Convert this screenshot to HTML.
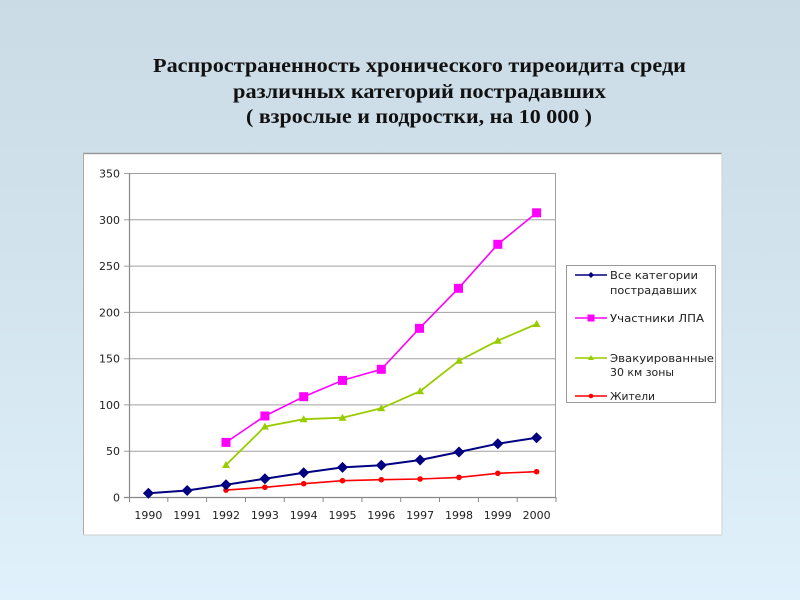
<!DOCTYPE html>
<html><head><meta charset="utf-8"><style>
html,body{margin:0;padding:0;}
body{width:800px;height:600px;overflow:hidden;background:linear-gradient(to bottom,#cbdbe6 0%,#d3e4ee 50%,#e0f1fc 100%);}
svg{display:block;}
</style></head><body>
<svg width="800" height="600" viewBox="0 0 800 600" xmlns="http://www.w3.org/2000/svg">
<g font-family="'Liberation Serif','Times New Roman',serif" font-weight="bold" font-size="20" fill="#111" text-anchor="middle">
<text x="419.5" y="72" textLength="533" lengthAdjust="spacingAndGlyphs">Распространенность хронического тиреоидита среди</text>
<text x="419.5" y="98" textLength="373" lengthAdjust="spacingAndGlyphs">различных категорий пострадавших</text>
<text x="419" y="123" textLength="346" lengthAdjust="spacingAndGlyphs">( взрослые и подростки, на 10 000 )</text>
</g>
<!-- chart box -->
<rect x="83" y="153" width="639" height="382" fill="#fff"/>
<line x1="83" y1="153.5" x2="722" y2="153.5" stroke="#999" stroke-width="1.5"/>
<line x1="83.5" y1="153" x2="83.5" y2="535" stroke="#aaa" stroke-width="1"/>
<line x1="722" y1="153" x2="722" y2="535" stroke="#d6d6d6" stroke-width="1.2"/>
<line x1="83" y1="535" x2="722" y2="535" stroke="#d6d6d6" stroke-width="1.2"/>
<!-- gridlines -->
<g stroke="#a0a0a0" stroke-width="1">
<line x1="124" y1="173.5" x2="556" y2="173.5"/>
<line x1="124" y1="219.8" x2="556" y2="219.8"/>
<line x1="124" y1="266.1" x2="556" y2="266.1"/>
<line x1="124" y1="312.4" x2="556" y2="312.4"/>
<line x1="124" y1="358.7" x2="556" y2="358.7"/>
<line x1="124" y1="404.9" x2="556" y2="404.9"/>
<line x1="124" y1="451.2" x2="556" y2="451.2"/>
<line x1="555.5" y1="173" x2="555.5" y2="497"/>
</g>
<!-- axes -->
<line x1="129.5" y1="173" x2="129.5" y2="497.5" stroke="#888" stroke-width="1.2"/>
<line x1="124" y1="497.5" x2="556" y2="497.5" stroke="#888" stroke-width="1.2"/>
<g stroke="#888" stroke-width="1">
<line x1="129.5" y1="497" x2="129.5" y2="502"/>
<line x1="167.8" y1="497" x2="167.8" y2="502"/>
<line x1="206.6" y1="497" x2="206.6" y2="502"/>
<line x1="245.5" y1="497" x2="245.5" y2="502"/>
<line x1="284.3" y1="497" x2="284.3" y2="502"/>
<line x1="323.1" y1="497" x2="323.1" y2="502"/>
<line x1="361.9" y1="497" x2="361.9" y2="502"/>
<line x1="400.7" y1="497" x2="400.7" y2="502"/>
<line x1="439.5" y1="497" x2="439.5" y2="502"/>
<line x1="478.4" y1="497" x2="478.4" y2="502"/>
<line x1="517.2" y1="497" x2="517.2" y2="502"/>
<line x1="556" y1="497" x2="556" y2="502"/>
</g>
<!-- y labels -->
<g font-family="'DejaVu Sans','Liberation Sans',sans-serif" font-size="11" fill="#222" text-anchor="end">
<text x="120" y="177.5">350</text>
<text x="120" y="223.8">300</text>
<text x="120" y="270.1">250</text>
<text x="120" y="316.4">200</text>
<text x="120" y="362.7">150</text>
<text x="120" y="408.9">100</text>
<text x="120" y="455.2">50</text>
<text x="120" y="501.5">0</text>
</g>
<g font-family="'DejaVu Sans','Liberation Sans',sans-serif" font-size="11" fill="#222" text-anchor="middle">
<text x="148.4" y="519">1990</text>
<text x="187.2" y="519">1991</text>
<text x="226" y="519">1992</text>
<text x="264.9" y="519">1993</text>
<text x="303.7" y="519">1994</text>
<text x="342.5" y="519">1995</text>
<text x="381.3" y="519">1996</text>
<text x="420.1" y="519">1997</text>
<text x="459" y="519">1998</text>
<text x="497.8" y="519">1999</text>
<text x="536.6" y="519">2000</text>
</g>
<!-- magenta -->
<polyline fill="none" stroke="#ff00ff" stroke-width="1.6" points="226,442.4 264.9,416 303.7,396.7 342.5,380.4 381.3,369.3 419.5,328.3 458.5,288.3 497.8,244.3 536.6,212.8"/>
<g fill="#ff00ff">
<rect x="221.5" y="437.9" width="9" height="9"/>
<rect x="260.4" y="411.5" width="9" height="9"/>
<rect x="299.2" y="392.2" width="9" height="9"/>
<rect x="338" y="375.9" width="9" height="9"/>
<rect x="376.8" y="364.8" width="9" height="9"/>
<rect x="415" y="323.8" width="9" height="9"/>
<rect x="454" y="283.8" width="9" height="9"/>
<rect x="493.3" y="239.8" width="9" height="9"/>
<rect x="532.1" y="208.3" width="9" height="9"/>
</g>
<!-- green -->
<polyline fill="none" stroke="#99cc00" stroke-width="1.8" points="226,465 264.9,426.6 303.7,419.2 342.5,417.7 381.3,408.3 420.1,391.2 459,360.7 497.8,340.7 536.6,324"/>
<g fill="#99cc00">
<polygon points="226,461 230,468 222,468"/>
<polygon points="264.9,422.6 268.9,429.6 260.9,429.6"/>
<polygon points="303.7,415.2 307.7,422.2 299.7,422.2"/>
<polygon points="342.5,413.7 346.5,420.7 338.5,420.7"/>
<polygon points="381.3,404.3 385.3,411.3 377.3,411.3"/>
<polygon points="420.1,387.2 424.1,394.2 416.1,394.2"/>
<polygon points="459,356.7 463,363.7 455,363.7"/>
<polygon points="497.8,336.7 501.8,343.7 493.8,343.7"/>
<polygon points="536.6,320 540.6,327 532.6,327"/>
</g>
<!-- red -->
<polyline fill="none" stroke="#ff0000" stroke-width="1.6" points="226,490.1 264.9,487.3 303.7,483.7 342.5,480.7 381.3,479.7 420.1,479 459,477.4 497.8,473.3 536.6,471.7"/>
<g fill="#ff0000">
<circle cx="226" cy="490.1" r="2.8"/>
<circle cx="264.9" cy="487.3" r="2.8"/>
<circle cx="303.7" cy="483.7" r="2.8"/>
<circle cx="342.5" cy="480.7" r="2.8"/>
<circle cx="381.3" cy="479.7" r="2.8"/>
<circle cx="420.1" cy="479" r="2.8"/>
<circle cx="459" cy="477.4" r="2.8"/>
<circle cx="497.8" cy="473.3" r="2.8"/>
<circle cx="536.6" cy="471.7" r="2.8"/>
</g>
<!-- navy -->
<polyline fill="none" stroke="#000080" stroke-width="2" points="148.4,493.3 187.2,490.5 226,484.7 264.9,478.7 303.7,472.7 342.5,467.4 381.3,465.3 420.1,460 459,452 497.8,443.7 536.6,437.8"/>
<g fill="#000080">
<polygon points="148.4,487.8 153.9,493.3 148.4,498.8 142.9,493.3"/>
<polygon points="187.2,485 192.7,490.5 187.2,496 181.7,490.5"/>
<polygon points="226,479.2 231.5,484.7 226,490.2 220.5,484.7"/>
<polygon points="264.9,473.2 270.4,478.7 264.9,484.2 259.4,478.7"/>
<polygon points="303.7,467.2 309.2,472.7 303.7,478.2 298.2,472.7"/>
<polygon points="342.5,461.9 348,467.4 342.5,472.9 337,467.4"/>
<polygon points="381.3,459.8 386.8,465.3 381.3,470.8 375.8,465.3"/>
<polygon points="420.1,454.5 425.6,460 420.1,465.5 414.6,460"/>
<polygon points="459,446.5 464.5,452 459,457.5 453.5,452"/>
<polygon points="497.8,438.2 503.3,443.7 497.8,449.2 492.3,443.7"/>
<polygon points="536.6,432.3 542.1,437.8 536.6,443.3 531.1,437.8"/>
</g>
<!-- legend -->
<rect x="566.5" y="265.5" width="149" height="137" fill="#fff" stroke="#999" stroke-width="1"/>
<line x1="575" y1="275" x2="607" y2="275" stroke="#000080" stroke-width="1.6"/>
<polygon points="591,272 594,275 591,278 588,275" fill="#000080"/>
<line x1="575" y1="318" x2="607" y2="318" stroke="#ff00ff" stroke-width="1.6"/>
<rect x="587.5" y="314.5" width="7" height="7" fill="#ff00ff"/>
<line x1="575" y1="358" x2="607" y2="358" stroke="#99cc00" stroke-width="1.6"/>
<polygon points="591,355 594,360 588,360" fill="#99cc00"/>
<line x1="575" y1="396" x2="607" y2="396" stroke="#ff0000" stroke-width="1.6"/>
<circle cx="591" cy="396" r="2.3" fill="#ff0000"/>
<g font-family="'DejaVu Sans','Liberation Sans',sans-serif" font-size="11" fill="#222">
<text x="610" y="279" textLength="88" lengthAdjust="spacingAndGlyphs">Все категории</text>
<text x="610" y="294" textLength="87" lengthAdjust="spacingAndGlyphs">пострадавших</text>
<text x="610" y="322" textLength="94" lengthAdjust="spacingAndGlyphs">Участники ЛПА</text>
<text x="610" y="362" textLength="104" lengthAdjust="spacingAndGlyphs">Эвакуированные</text>
<text x="610" y="376" textLength="64" lengthAdjust="spacingAndGlyphs">30 км зоны</text>
<text x="610" y="400" textLength="45" lengthAdjust="spacingAndGlyphs">Жители</text>
</g>
</svg>
</body></html>
